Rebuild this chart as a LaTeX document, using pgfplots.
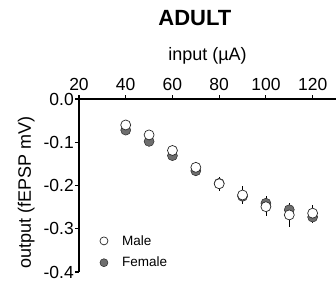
\documentclass[border=0pt]{standalone}
\usepackage{pgfplots}
\pgfplotsset{compat=1.18}
\usepackage{fontspec}
\setmainfont{Liberation Sans}
\definecolor{fgray}{RGB}{110,110,110}
\definecolor{edge}{RGB}{40,40,40}
\begin{document}
\begin{tikzpicture}
\useasboundingbox (-79pt,-12pt) rectangle (257pt,272pt);
\begin{axis}[
  at={(0,0)}, anchor=south west,
  scale only axis, width=257pt, height=173pt,
  xmin=20, xmax=130, ymin=-0.4, ymax=0,
  axis x line*=top, axis y line*=left,
  axis line style={line width=1.1pt, -},
  xtick={20,40,60,80,100,120},
  ytick={0,-0.1,-0.2,-0.3,-0.4},
  yticklabels={0.0,-0.1,-0.2,-0.3,-0.4},
  tick align=outside, major tick length=4pt,
  tick style={line width=1.1pt, black},
  /pgf/number format/assume math mode=true,
  ticklabel style={font=\fontsize{17.5}{17.5}\selectfont},
  xticklabel style={anchor=base, yshift=5pt},
  yticklabel style={inner sep=1pt},
  xlabel={input (µA)},
  xlabel style={font=\fontsize{18}{18}\selectfont, at={(axis description cs:0.5,1)}, anchor=base, yshift=39pt},
  ylabel={output (fEPSP mV)},
  ylabel style={font=\fontsize{18}{18}\selectfont, at={(axis description cs:-0.187,0.46)}, anchor=base},
  title={\textbf{ADULT}},
  title style={font=\fontsize{22}{22}\selectfont, at={(axis description cs:0.451,1)}, anchor=base, yshift=68pt},
  clip=false,
  reverse legend,
  legend style={draw=none, fill=none, at={(axis description cs:0.08,0.225)}, anchor=north west,
    font=\fontsize{13.5}{13.5}\selectfont, row sep=6.5pt, inner sep=0pt},
  legend cell align=left,
  legend image code/.code={\draw[#1, mark size=4pt] plot coordinates {(0pt,0pt)}; \path (-4pt,0pt) (16pt,0pt);},
]
\addplot+[only marks, mark=*, mark size=5pt, color=edge, mark options={fill=fgray, draw=edge, line width=0.5pt},
  error bars/.cd, y dir=both, y explicit, error bar style={line width=0.8pt, black}, error mark=none]
  coordinates {
  (40,-0.072) +- (0,0.006)
  (50,-0.098) +- (0,0.007)
  (60,-0.131) +- (0,0.008)
  (70,-0.166) +- (0,0.012)
  (80,-0.195) +- (0,0.014)
  (90,-0.225) +- (0,0.015)
  (100,-0.241) +- (0,0.016)
  (110,-0.256) +- (0,0.016)
  (120,-0.273) +- (0,0.014)
  };
\addlegendentry{Female}
\addplot+[only marks, mark=*, mark size=5pt, color=edge, mark options={fill=white, draw=edge, line width=0.7pt},
  error bars/.cd, y dir=both, y explicit, error bar style={line width=0.8pt, black}, error mark=none]
  coordinates {
  (40,-0.060) +- (0,0.005)
  (50,-0.083) +- (0,0.006)
  (60,-0.119) +- (0,0.007)
  (70,-0.158) +- (0,0.012)
  (80,-0.196) +- (0,0.016)
  (90,-0.222) +- (0,0.020)
  (100,-0.249) +- (0,0.022)
  (110,-0.268) +- (0,0.027)
  (120,-0.264) +- (0,0.018)
  };
\addlegendentry{Male}
\end{axis}
\end{tikzpicture}
\end{document}
